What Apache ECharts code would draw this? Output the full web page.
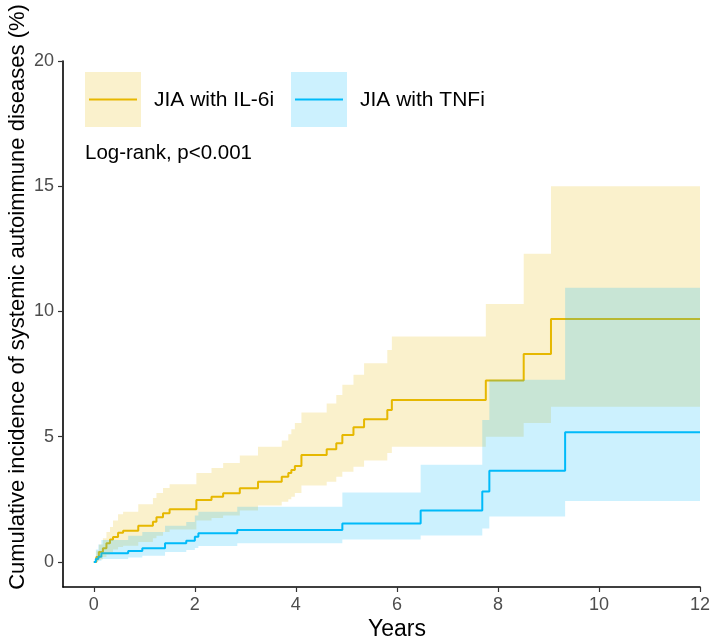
<!DOCTYPE html>
<html>
  <head>
    <meta charset="UTF-8" />
    <title>Cumulative incidence</title>
    <style type="text/css">
      html,
      body {
        width: 100%;
        height: 100%;
        margin: 0;
        padding: 0;
        overflow: hidden;
        background: #fff;
      }
      #chart {
        width: 716px;
        height: 643px;
      }
    </style>
  </head>
  <body>
    <div id="chart"></div>
    <script src="https://cdn.jsdelivr.net/npm/echarts@6.0.0/dist/echarts.min.js"></script>
    <script type="text/javascript">
      // JIA with IL-6i : step times (years), estimate and 95% CI (%)
      const il6Time = [0, 0.05, 0.1, 0.18, 0.25, 0.32, 0.38, 0.48, 0.58, 0.88, 1.17, 1.24, 1.37, 1.5, 2.03, 2.33, 2.56, 2.89, 3.25, 3.72, 3.85, 3.91, 3.98, 4.11, 4.61, 4.8, 4.92, 5.14, 5.35, 5.81, 5.9, 7.76, 8.51, 9.05, 12];
      const il6Est = [0, 0.2, 0.4, 0.55, 0.75, 0.9, 1.0, 1.17, 1.25, 1.45, 1.61, 1.78, 1.94, 2.1, 2.47, 2.6, 2.74, 2.94, 3.2, 3.4, 3.55, 3.67, 3.83, 4.27, 4.5, 4.74, 5.07, 5.38, 5.7, 6.07, 6.47, 7.24, 8.3, 9.7, 9.7];
      const il6Lower = [0, 0.05, 0.1, 0.2, 0.3, 0.4, 0.5, 0.6, 0.65, 0.8, 0.95, 1.05, 1.2, 1.3, 1.65, 1.75, 1.85, 2.05, 2.25, 2.4, 2.5, 2.6, 2.75, 3.05, 3.2, 3.4, 3.6, 3.8, 4.05, 4.35, 4.6, 5.0, 5.55, 6.2, 6.2];
      const il6Upper = [0, 0.45, 0.7, 0.95, 1.2, 1.4, 1.65, 1.9, 2.0, 2.3, 2.55, 2.75, 2.95, 3.1, 3.55, 3.75, 3.95, 4.25, 4.6, 4.85, 5.1, 5.3, 5.55, 5.97, 6.33, 6.67, 7.07, 7.47, 7.93, 8.46, 9.0, 10.3, 12.3, 15.0, 15.0];

      // JIA with TNFi
      const tnfTime = [0, 0.04, 0.09, 0.15, 0.68, 0.96, 1.41, 1.83, 2.0, 2.07, 2.84, 4.92, 6.47, 7.69, 7.83, 9.33, 12];
      const tnfEst = [0, 0.12, 0.21, 0.35, 0.44, 0.55, 0.75, 0.85, 1.01, 1.15, 1.28, 1.54, 2.05, 2.81, 3.64, 5.18, 5.18];
      const tnfLower = [0, 0.02, 0.05, 0.12, 0.18, 0.25, 0.4, 0.48, 0.56, 0.64, 0.75, 0.9, 1.06, 1.34, 1.81, 2.43, 2.43];
      const tnfUpper = [0, 0.5, 0.7, 0.88, 1.05, 1.2, 1.45, 1.6, 1.85, 2.0, 2.2, 2.77, 3.88, 5.67, 7.27, 10.95, 10.95];

      const xTicks = [0, 2, 4, 6, 8, 10, 12];
      const yTicks = [0, 5, 10, 15, 20];

      const groupNames = ["JIA with IL-6i", "JIA with TNFi"];
      const yellow = "#E7B800";
      const blue = "#00BBF9";
      const font = "Liberation Sans, Arial, sans-serif";

      const pairs = (xs, ys) => xs.map((x, i) => [x, ys[i]]);

      // step-shaped confidence band, drawn as one polygon through the axes
      const bandSeries = (xs, lo, hi, color, z) => ({
        type: "custom",
        silent: true,
        z: z,
        data: xs.map((x, i) => [x, lo[i], hi[i]]),
        encode: { x: 0, y: [1, 2] },
        renderItem: (params, api) => {
          if (params.dataIndex !== 0) return null;
          const pts = [];
          for (let i = 0; i < xs.length; i++) {
            pts.push(api.coord([xs[i], hi[i]]));
            if (i < xs.length - 1) pts.push(api.coord([xs[i + 1], hi[i]]));
          }
          for (let i = xs.length - 1; i >= 0; i--) {
            if (i < xs.length - 1) pts.push(api.coord([xs[i + 1], lo[i]]));
            pts.push(api.coord([xs[i], lo[i]]));
          }
          return {
            type: "polygon",
            shape: { points: pts },
            style: { fill: color, opacity: 0.2 },
          };
        },
      });

      const chart = echarts.init(document.getElementById("chart"));

      const option = {
        backgroundColor: "#fff",
        animation: false,
        textStyle: { fontFamily: font },
        grid: { left: 63, right: 16, top: 61, bottom: 56 },
        xAxis: {
          type: "value",
          min: -0.61,
          max: 12,
          splitLine: { show: false },
          axisLine: { onZero: false, lineStyle: { color: "#000", width: 1.6 } },
          axisTick: { customValues: xTicks, length: 5, lineStyle: { color: "#333", width: 1.2 } },
          axisLabel: { customValues: xTicks, fontSize: 18, color: "#4D4D4D", margin: 9, fontFamily: font },
        },
        yAxis: {
          type: "value",
          min: -1,
          max: 20,
          splitLine: { show: false },
          axisLine: { show: true, onZero: false, lineStyle: { color: "#000", width: 1.6 } },
          axisTick: { show: true, customValues: yTicks, length: 5, lineStyle: { color: "#333", width: 1.2 } },
          axisLabel: { customValues: yTicks, fontSize: 18, color: "#4D4D4D", margin: 9, fontFamily: font },
        },
        series: [
          {
            name: groupNames[0],
            type: "line",
            step: "end",
            symbol: "none",
            z: 2,
            lineStyle: { color: yellow, width: 2 },
            data: pairs(il6Time, il6Est),
          },
          {
            name: groupNames[1],
            type: "line",
            step: "end",
            symbol: "none",
            z: 2,
            lineStyle: { color: blue, width: 2 },
            data: pairs(tnfTime, tnfEst),
          },
          // ribbons sit over the curves, as in the original plot
          bandSeries(il6Time, il6Lower, il6Upper, yellow, 3),
          bandSeries(tnfTime, tnfLower, tnfUpper, blue, 4),
        ],
        graphic: [
          // legend keys
          { type: "rect", shape: { x: 85, y: 72, width: 56, height: 55 }, style: { fill: yellow, opacity: 0.2 } },
          { type: "line", shape: { x1: 89, y1: 99.5, x2: 137, y2: 99.5 }, style: { stroke: yellow, lineWidth: 2 } },
          { type: "text", x: 154, y: 100, style: { text: groupNames[0], font: "21px " + font, fill: "#000", textVerticalAlign: "middle" } },
          { type: "rect", shape: { x: 291, y: 72, width: 56, height: 55 }, style: { fill: blue, opacity: 0.2 } },
          { type: "line", shape: { x1: 295, y1: 99.5, x2: 343, y2: 99.5 }, style: { stroke: blue, lineWidth: 2 } },
          { type: "text", x: 360, y: 100, style: { text: groupNames[1], font: "21px " + font, fill: "#000", textVerticalAlign: "middle" } },
          { type: "text", x: 85, y: 153, style: { text: "Log-rank, p<0.001", font: "20.5px " + font, fill: "#000", textVerticalAlign: "middle" } },
          // axis titles
          { type: "text", x: 397, y: 630, style: { text: "Years", font: "23px " + font, fill: "#000", textAlign: "center", textVerticalAlign: "middle" } },
          {
            type: "text",
            x: 18,
            y: 297,
            rotation: Math.PI / 2,
            style: {
              text: "Cumulative incidence of systemic autoimmune diseases (%)",
              font: "22px " + font,
              fill: "#000",
              textAlign: "center",
              textVerticalAlign: "middle",
            },
          },
        ],
      };

      chart.setOption(option);
    </script>
  </body>
</html>
